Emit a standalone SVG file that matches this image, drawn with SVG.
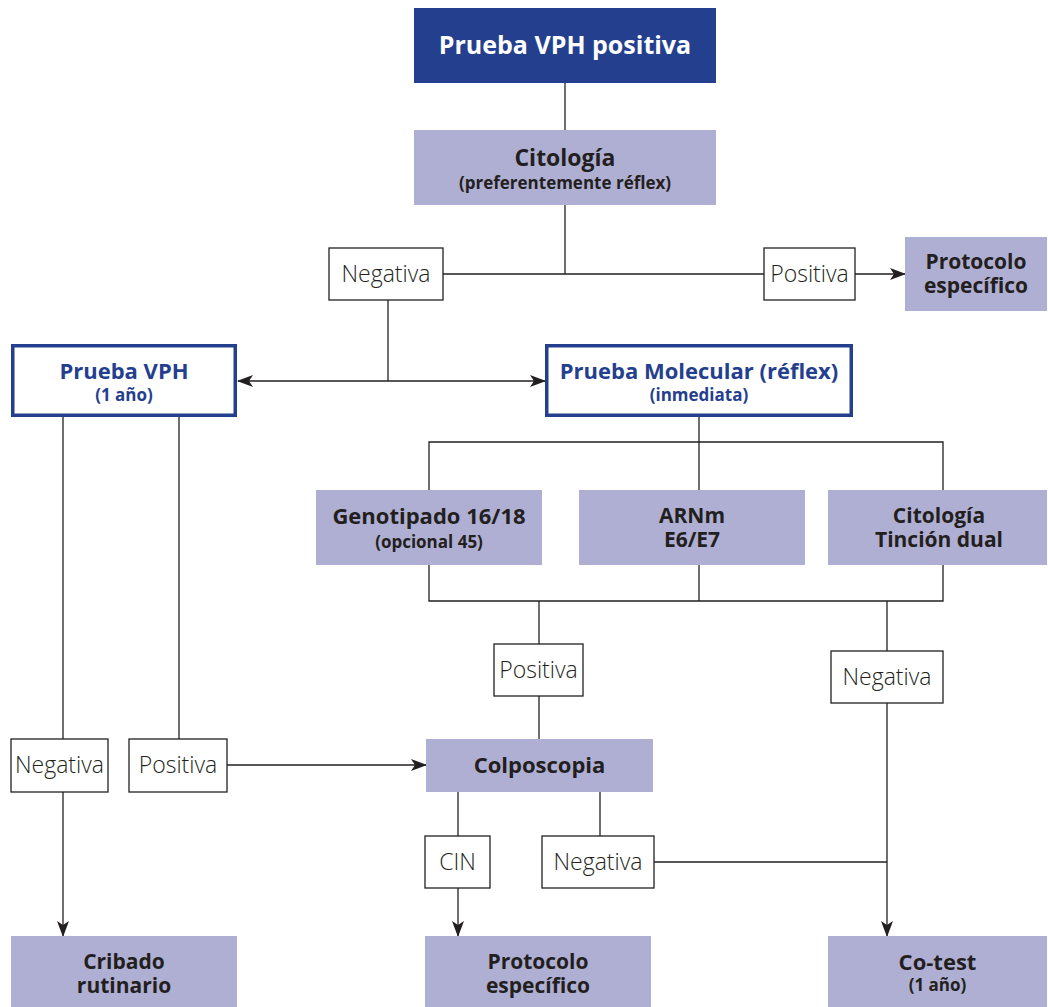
<svg xmlns="http://www.w3.org/2000/svg" width="1048" height="1007" viewBox="0 0 1048 1007">
<style>
text{font-family:"Open Sans","Noto Sans","DejaVu Sans",sans-serif;text-anchor:middle}
.t{font-weight:700;font-size:22px;fill:#231f20}
.t2{font-weight:700;font-size:21px;fill:#231f20}
.s{font-weight:700;font-size:17px;fill:#231f20}
.tb{font-weight:700;font-size:22px;fill:#253f8f}
.sb{font-weight:700;font-size:17px;fill:#253f8f}
.l{font-weight:300;font-size:23px;fill:#231f20}
.lav{fill:#afafd3}
.outl{fill:#fff;stroke:#253f8f;stroke-width:3.5}
.lbl{fill:#fff;stroke:#231f20;stroke-width:1.3}
.c{fill:none;stroke:#231f20;stroke-width:1.3}
</style>
<defs>
<marker id="ah" markerUnits="userSpaceOnUse" markerWidth="16" markerHeight="12" refX="15" refY="6" orient="auto-start-reverse" viewBox="0 0 16 12">
<path d="M0,0 L16,6 L0,12 L4,6 z" fill="#231f20"/>
</marker>
</defs>
<g id="connectors">
<path class="c" d="M565,83 V130"/>
<path class="c" d="M565,205 V274"/>
<path class="c" d="M443,274 H764"/>
<path class="c" d="M855,274 H905" marker-end="url(#ah)"/>
<path class="c" d="M388,300 V381"/>
<path class="c" d="M238,381 H545" marker-start="url(#ah)" marker-end="url(#ah)"/>
<path class="c" d="M699,417 V442"/>
<path class="c" d="M429,490 V442 H943 V490"/>
<path class="c" d="M699,442 V490"/>
<path class="c" d="M429,565 V601 H943 V565"/>
<path class="c" d="M699,565 V601"/>
<path class="c" d="M539,601 V644"/>
<path class="c" d="M539,696 V739"/>
<path class="c" d="M887,601 V651"/>
<path class="c" d="M887,703 V936" marker-end="url(#ah)"/>
<path class="c" d="M63,417 V739"/>
<path class="c" d="M179,417 V739"/>
<path class="c" d="M63,792 V936" marker-end="url(#ah)"/>
<path class="c" d="M227,765 H426" marker-end="url(#ah)"/>
<path class="c" d="M458,792 V836"/>
<path class="c" d="M600,792 V836"/>
<path class="c" d="M458,888 V936" marker-end="url(#ah)"/>
<path class="c" d="M654,862 H887"/>
</g>
<g id="n-vph-positiva">
<rect x="414" y="8" width="302" height="75" fill="#253f8f"/>
<text x="565" y="54" style="font-weight:700;font-size:25px;fill:#fff">Prueba VPH positiva</text>
</g>
<g id="n-citologia">
<rect class="lav" x="414" y="130" width="302" height="75"/>
<text class="t" x="565" y="166" style="font-size:23px">Citología</text>
<text class="s" x="565" y="189">(preferentemente réflex)</text>
</g>
<g id="l-negativa-1">
<rect class="lbl" x="329" y="248" width="114" height="52"/>
<text class="l" x="386" y="282">Negativa</text>
</g>
<g id="l-positiva-1">
<rect class="lbl" x="764" y="248" width="91" height="52"/>
<text class="l" x="809.5" y="282">Positiva</text>
</g>
<g id="n-protocolo-1">
<rect class="lav" x="905" y="237" width="142" height="74"/>
<text class="t2" x="976" y="269">Protocolo</text>
<text class="t2" x="976" y="293">específico</text>
</g>
<g id="n-prueba-vph">
<rect class="outl" x="12.75" y="345.75" width="222.5" height="69.5"/>
<text class="tb" x="124" y="379">Prueba VPH</text>
<text class="sb" x="124" y="401">(1 año)</text>
</g>
<g id="n-molecular">
<rect class="outl" x="546.75" y="345.75" width="304.5" height="69.5"/>
<text class="tb" x="699" y="379">Prueba Molecular (réflex)</text>
<text class="sb" x="699" y="401">(inmediata)</text>
</g>
<g id="n-genotipado">
<rect class="lav" x="316" y="490" width="226" height="75"/>
<text class="t" x="429" y="524">Genotipado 16/18</text>
<text class="s" x="429" y="548">(opcional 45)</text>
</g>
<g id="n-arnm">
<rect class="lav" x="579" y="490" width="226" height="75"/>
<text class="t2" x="692" y="523">ARNm</text>
<text class="t2" x="692" y="547">E6/E7</text>
</g>
<g id="n-tincion">
<rect class="lav" x="828" y="490" width="219" height="75"/>
<text class="t2" x="939" y="523">Citología</text>
<text class="t2" x="939" y="547">Tinción dual</text>
</g>
<g id="l-positiva-2">
<rect class="lbl" x="494" y="644" width="89" height="52"/>
<text class="l" x="538.5" y="678">Positiva</text>
</g>
<g id="l-negativa-2">
<rect class="lbl" x="831" y="651" width="112" height="52"/>
<text class="l" x="887" y="685">Negativa</text>
</g>
<g id="l-negativa-3">
<rect class="lbl" x="11" y="739" width="97" height="53"/>
<text class="l" x="59.5" y="773">Negativa</text>
</g>
<g id="l-positiva-3">
<rect class="lbl" x="129" y="739" width="98" height="53"/>
<text class="l" x="178" y="773">Positiva</text>
</g>
<g id="n-colposcopia">
<rect class="lav" x="426" y="739" width="227" height="53"/>
<text class="t" x="539.5" y="773">Colposcopia</text>
</g>
<g id="l-cin">
<rect class="lbl" x="425" y="836" width="65" height="52"/>
<text class="l" x="457.5" y="870">CIN</text>
</g>
<g id="l-negativa-4">
<rect class="lbl" x="542" y="836" width="112" height="52"/>
<text class="l" x="598" y="870">Negativa</text>
</g>
<g id="n-cribado">
<rect class="lav" x="11" y="936" width="226" height="71"/>
<text class="t2" x="124" y="969">Cribado</text>
<text class="t2" x="124" y="993">rutinario</text>
</g>
<g id="n-protocolo-2">
<rect class="lav" x="425" y="936" width="226" height="71"/>
<text class="t2" x="538" y="969">Protocolo</text>
<text class="t2" x="538" y="993">específico</text>
</g>
<g id="n-cotest">
<rect class="lav" x="828" y="936" width="219" height="71"/>
<text class="t" x="937.5" y="970">Co-test</text>
<text class="s" x="937.5" y="991">(1 año)</text>
</g>
</svg>
